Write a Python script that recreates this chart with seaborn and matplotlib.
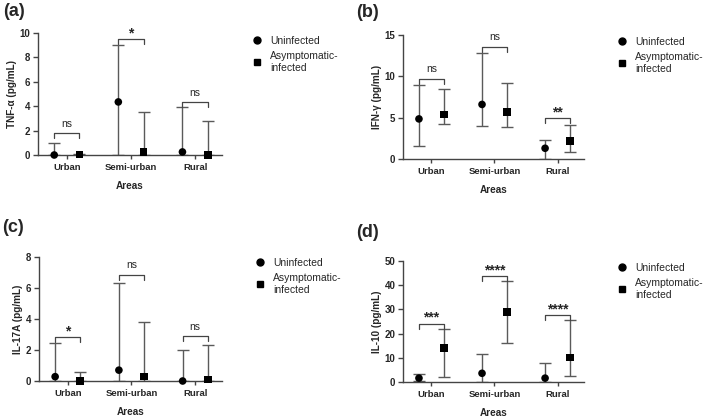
import matplotlib
matplotlib.use("Agg")
import matplotlib.pyplot as plt
from matplotlib.lines import Line2D
import seaborn as sns
import numpy as np
import pandas as pd

areas = ["Urban", "Semi-urban", "Rural"]
groups = ["Uninfected", "Asymptomatic-\ninfected"]

# Panel (a) TNF-alpha
tnf_unin_med = [0.0, 4.35, 0.25]
tnf_unin_lo = [0.0, 0.0, 0.0]
tnf_unin_hi = [0.97, 9.05, 3.9]
tnf_inf_med = [0.05, 0.25, 0.0]
tnf_inf_lo = [0.0, 0.0, 0.0]
tnf_inf_hi = [0.1, 3.5, 2.78]
tnf_sig = ["ns", "*", "ns"]
tnf_sig_y = [1.8, 9.5, 4.35]
tnf_ticks = [0, 2, 4, 6, 8, 10]

# Panel (b) IFN-gamma
ifn_unin_med = [4.85, 6.6, 1.3]
ifn_unin_lo = [1.6, 4.05, 0.0]
ifn_unin_hi = [9.0, 12.85, 2.3]
ifn_inf_med = [5.4, 5.7, 2.2]
ifn_inf_lo = [4.2, 3.9, 0.85]
ifn_inf_hi = [8.45, 9.25, 4.1]
ifn_sig = ["ns", "ns", "**"]
ifn_sig_y = [9.7, 13.6, 4.95]
ifn_ticks = [0, 5, 10, 15]

# Panel (c) IL-17A
il17_unin_med = [0.28, 0.7, 0.0]
il17_unin_lo = [0.0, 0.0, 0.0]
il17_unin_hi = [2.45, 6.33, 1.97]
il17_inf_med = [0.0, 0.3, 0.1]
il17_inf_lo = [0.0, 0.0, 0.0]
il17_inf_hi = [0.55, 3.82, 2.33]
il17_sig = ["*", "ns", "ns"]
il17_sig_y = [2.85, 6.86, 2.88]
il17_ticks = [0, 2, 4, 6, 8]

# Panel (d) IL-10
il10_unin_med = [1.6, 3.6, 1.6]
il10_unin_lo = [0.5, 0.0, 0.0]
il10_unin_hi = [3.3, 11.7, 8.0]
il10_inf_med = [14.0, 29.0, 10.2]
il10_inf_lo = [2.0, 16.1, 2.5]
il10_inf_hi = [22.0, 41.8, 25.5]
il10_sig = ["***", "****", "****"]
il10_sig_y = [24.1, 43.9, 27.5]
il10_ticks = [0, 10, 20, 30, 40, 50]

sns.set_style("ticks")
plt.rcParams['font.family'] = ['Liberation Sans', 'DejaVu Sans']

W, H = 709, 417
fig = plt.figure(figsize=(W / 100, H / 100), dpi=100)

panels = [
    dict(label="(a)", ylabel="TNF-α (pg/mL)", um=tnf_unin_med, ul=tnf_unin_lo, uh=tnf_unin_hi,
         im=tnf_inf_med, il=tnf_inf_lo, ih=tnf_inf_hi, sig=tnf_sig, sigy=tnf_sig_y, ticks=tnf_ticks,
         box=(38, 33, 222, 155), lab=(3, 3), leg=(252, 36)),
    dict(label="(b)", ylabel="IFN-γ (pg/mL)", um=ifn_unin_med, ul=ifn_unin_lo, uh=ifn_unin_hi,
         im=ifn_inf_med, il=ifn_inf_lo, ih=ifn_inf_hi, sig=ifn_sig, sigy=ifn_sig_y, ticks=ifn_ticks,
         box=(403, 35, 584, 159), lab=(356, 4), leg=(617, 37)),
    dict(label="(c)", ylabel="IL-17A (pg/mL)", um=il17_unin_med, ul=il17_unin_lo, uh=il17_unin_hi,
         im=il17_inf_med, il=il17_inf_lo, ih=il17_inf_hi, sig=il17_sig, sigy=il17_sig_y, ticks=il17_ticks,
         box=(39, 257, 222, 381), lab=(2, 219), leg=(255, 258)),
    dict(label="(d)", ylabel="IL-10 (pg/mL)", um=il10_unin_med, ul=il10_unin_lo, uh=il10_unin_hi,
         im=il10_inf_med, il=il10_inf_lo, ih=il10_inf_hi, sig=il10_sig, sigy=il10_sig_y, ticks=il10_ticks,
         box=(403, 261, 584, 382), lab=(356, 224), leg=(617, 263)),
]

dodge = 0.197
err_color = "#5a5a5a"
axis_color = "#444444"

for p in panels:
    x0, y0, x1, y1 = p["box"]
    ax = fig.add_axes([x0 / W, 1 - y1 / H, (x1 - x0) / W, (y1 - y0) / H])
    rows = []
    for i, a in enumerate(areas):
        rows.append(dict(xpos=i - dodge, med=p["um"][i], lo=p["ul"][i], hi=p["uh"][i], group=groups[0]))
        rows.append(dict(xpos=i + dodge, med=p["im"][i], lo=p["il"][i], hi=p["ih"][i], group=groups[1]))
    df = pd.DataFrame(rows)
    ax.errorbar(df["xpos"], df["med"], yerr=[df["med"] - df["lo"], df["hi"] - df["med"]],
                fmt="none", ecolor=err_color, elinewidth=1.0, capsize=4, capthick=1.0, zorder=2)
    sns.scatterplot(data=df, x="xpos", y="med", style="group",
                    markers={groups[0]: "o", groups[1]: "s"}, color="black",
                    s=30, edgecolor="black", linewidth=0, legend=False, ax=ax, zorder=4, clip_on=False)
    ymax = p["ticks"][-1]
    ax.set_ylim(0, ymax)
    ax.set_xlim(-0.45, 2.42)
    ax.set_yticks(p["ticks"])
    ax.set_yticklabels([str(t) for t in p["ticks"]], fontweight="bold", fontsize=7)
    ax.set_xticks(range(3))
    ax.set_xticklabels(areas, fontweight="bold", fontsize=6.8)
    ax.set_xlabel("Areas", fontweight="bold", fontsize=7.2, labelpad=6)
    ax.set_ylabel(p["ylabel"], fontweight="bold", fontsize=7.2, labelpad=2)
    for s in ["top", "right"]:
        ax.spines[s].set_visible(False)
    for s in ["left", "bottom"]:
        ax.spines[s].set_color(axis_color)
        ax.spines[s].set_linewidth(1.0)
    ax.tick_params(axis="y", length=3.5, width=1.0, color=axis_color, pad=2)
    ax.tick_params(axis="x", length=3, width=1.0, color=axis_color, pad=3)
    ax.set_facecolor("white")
    # significance brackets
    drop = ymax * 0.04
    for i in range(3):
        yb = p["sigy"][i]
        xl, xr = i - dodge, i + dodge
        ax.plot([xl, xl, xr, xr], [yb - drop, yb, yb, yb - drop], color=axis_color, lw=0.9,
                clip_on=False, zorder=3)
        txt = p["sig"][i]
        if txt == "ns":
            ax.text(i, yb + ymax * 0.035, txt, ha="center", va="bottom", fontsize=7.5, clip_on=False)
        else:
            ax.text(i, yb - ymax * 0.01, txt, ha="center", va="bottom", fontsize=10,
                    fontweight="bold", clip_on=False)
    # legend
    handles = [Line2D([], [], marker="o", color="black", linestyle="none", markersize=5),
               Line2D([], [], marker="s", color="black", linestyle="none", markersize=4.6)]
    lx, ly = p["leg"]
    ax.legend(handles, groups, loc="upper left", bbox_to_anchor=(lx / W, 1 - ly / H),
              bbox_transform=fig.transFigure, frameon=False, fontsize=7.5,
              handlelength=1.0, handletextpad=0.75, labelspacing=0.5, borderpad=0,
              borderaxespad=0)
    fig.text(p["lab"][0] / W, 1 - p["lab"][1] / H, p["label"], fontsize=13, fontweight="bold",
             ha="left", va="top")

fig.savefig("out.png", dpi=100, facecolor="white")
